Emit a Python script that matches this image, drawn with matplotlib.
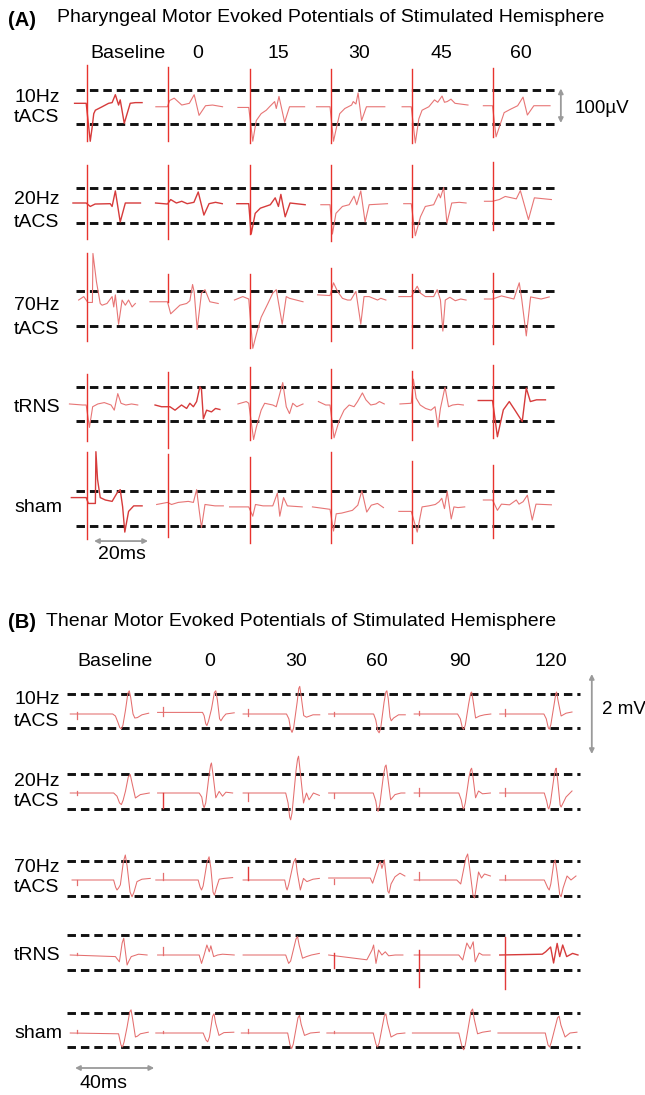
import matplotlib
matplotlib.use('Agg')
import matplotlib.pyplot as plt

plt.rcParams['font.family'] = ['Liberation Sans', 'DejaVu Sans']

# ======================= DATA =======================
A_title = 'Pharyngeal Motor Evoked Potentials of Stimulated Hemisphere'
B_title = 'Thenar Motor Evoked Potentials of Stimulated Hemisphere'
A_times = ['Baseline', '0', '15', '30', '45', '60']
B_times = ['Baseline', '0', '30', '60', '90', '120']
conditions = ['10Hz\ntACS', '20Hz\ntACS', '70Hz\ntACS', 'tRNS', 'sham']

# Panel A traces: (ms after stimulus, microvolts from baseline)
A_10Hz = [
    [(-4.6, 2), (-0.3, 2), (1.2, -108), (1.9, -68), (2.5, -28), (3.1, -18), (5.6, -8), (8, 2), (9.3, 4),
     (10.5, 27), (11.7, -3), (12.3, 12), (13.8, -56), (16, 2), (17.9, 4), (20.4, 4)],
    [(-4.6, -8), (-0.3, -8), (0.5, 10), (2.2, 17), (5, -3), (7.8, 2), (9.6, 27), (11.4, -33), (13.8, -5),
     (16.4, -3), (20.1, -8)],
    [(-4.3, -10), (-0.3, -10), (1.2, -108), (2.5, -48), (4.3, -28), (6.2, -18), (7.4, -8), (9.3, 7), (9.9, -13),
     (10.9, 22), (13, -53), (14.8, -8), (20.4, -8)],
    [(-5.3, -8), (-0.3, -8), (1, -108), (2.1, -68), (3.3, -28), (5.2, -13), (7.7, -3), (8.3, 7), (9.3, 0),
     (10.1, 32), (11.4, -48), (13.2, -8), (20, -8)],
    [(-3.7, -8), (-0.3, -8), (1.2, -113), (2.5, -43), (3.7, -18), (6.2, -8), (8.3, 12), (9.5, 5), (11.1, 23),
     (12, 5), (13, 7), (14.4, 14), (15.9, 2), (20.7, -3)],
    [(-3.7, -5), (-0.3, -5), (1, -95), (4, -25), (6.4, -15), (9, -5), (11, 20), (12.6, -32), (15, -5), (21, -5)],
]
A_10Hz_art = [(112, -108), (107, -108), (102, -113), (102, -113), (102, -113), (104, -96)]

A_20Hz = [
    [(-5.2, 0), (-0.3, 0), (1.2, -10), (3, -3), (8.6, -2), (9.3, -10), (10.5, 35), (12.3, -55), (14.2, 0), (19.8, 0)],
    [(-4.7, 0), (-0.3, -3), (0.9, 10), (3, 0), (5, 5), (7, -2), (9.5, 2), (11.1, 32), (13.2, -35), (15.1, -2),
     (17.5, 2), (20, -2)],
    [(-4.7, -2), (-0.3, -2), (0.6, -90), (2.1, -30), (4, -15), (7.7, -5), (9.5, 15), (10.7, -10), (11.6, 25),
     (13.2, -40), (15, 0), (20.6, -5)],
    [(-3.7, -5), (-0.3, -5), (0.6, -90), (1.9, -30), (4.3, -10), (6.8, -5), (8.6, 20), (9.6, -5), (11.1, 35),
     (12.7, -55), (14.2, -5), (21, -2)],
    [(-3.1, -2), (-0.3, -2), (1.2, -95), (3.1, -40), (4.9, -10), (8, -5), (9.9, 27), (10.5, 15), (11.7, 45),
     (12.9, -58), (14.7, 0), (17.5, 2), (20, 0)],
    [(-3.3, 5), (-0.3, 5), (2.2, 10), (4.4, 19), (8.5, 12), (10, 36), (13, -48), (15.2, 15), (21.5, 10)],
]
A_20Hz_art = [(110, -105), (110, -105), (110, -90), (110, -110), (110, -100), (120, -78)]

A_70Hz = [
    [(-3.1, -3), (-1.2, 7), (-0.3, -3), (0.3, -10), (2.0, -10), (2.2, 132), (3.5, 50), (4.9, -13), (5.6, -18),
     (7.4, -13), (9.3, 7), (9.9, -23), (10.5, 12), (11.7, -73), (13, -3), (14.2, -18), (15.4, -3), (16.7, -23),
     (17.9, -13)],
    [(-6.8, -8), (-0.3, -8), (0.9, -43), (4.3, -18), (6.8, -13), (8, -5), (9, 42), (9.6, 20), (10.7, -88),
     (12.3, 17), (13.6, 27), (15.4, -8), (18.5, -13)],
    [(-5.6, -3), (-2.5, 7), (-0.3, 0), (1.2, -143), (2.5, -103), (4.3, -53), (6.8, -13), (8.6, 17), (9.9, 27),
     (12.1, -73), (13.6, 7), (14.8, 2), (19.8, -8)],
    [(-4.9, 12), (-0.3, 10), (1, 47), (2.5, 22), (4.3, 2), (6.2, -3), (7.4, -3), (9.3, 22), (11.1, -73), (12.3, 7),
     (14.2, 7), (17.3, -3), (18.5, 2), (20.4, -3)],
    [(-4.9, 7), (-0.3, 7), (1.9, 37), (3.1, 17), (4.9, 7), (8, 7), (9.3, 27), (10.5, -3), (11.4, -93), (12.3, -3),
     (14, 5), (16, -5), (18, 0), (20, -3)],
    [(-3.3, 0), (-0.3, 0), (3, 9), (4.5, 6), (7.6, 0), (9.6, 47), (10.5, 0), (12.2, -107), (13.8, 6), (17.7, 0),
     (20.7, 6)],
]
A_70Hz_art = [(132, -123), (72, -10), (72, -143), (89, -123), (72, -143), (76, -130)]

A_tRNS = [
    [(-6.5, 3), (-1.6, 0), (-0.3, 0), (0.9, -65), (2.1, -5), (4, 3), (6.4, 7), (8.9, 0), (10.1, -15), (11.4, 33),
     (12.6, 5), (14.4, 0), (16.5, 3), (18.8, 0)],
    [(-4.9, 0), (-2.5, -5), (-0.3, -5), (0.6, -5), (2.5, -15), (4.9, 0), (6.8, -10), (8, 5), (9.3, -5), (10.5, 10),
     (11.7, 53), (12.3, 45), (13, -40), (14.2, -15), (16, -20), (17.5, -10), (19.1, -13)],
    [(-4.3, 3), (-1.2, 10), (-0.3, 5), (1.5, -100), (2.5, -65), (4.3, -15), (5.6, 5), (8.6, 0), (9.9, -5),
     (12.3, 65), (13.6, -5), (14.8, -25), (16, 5), (17.5, -5), (19.8, 3)],
    [(-4.6, 10), (-1.9, 0), (-0.3, 0), (1.2, -95), (3.1, -45), (4.9, -15), (6.8, 0), (8.6, -5), (9.9, 10),
     (11.7, 35), (13, 15), (14.8, 0), (16.7, 3), (18, 10), (19.8, 3)],
    [(-4.5, 3), (-0.3, 5), (0.5, 75), (1.5, 20), (3, 0), (5, -10), (7, -15), (8.5, -5), (9.6, -64), (10.5, -10),
     (12.2, 52), (13.5, -5), (15, 0), (17, 2), (19, 0)],
    [(-5.6, 13), (-0.3, 13), (1.5, -92), (3.7, -14), (5.9, 10), (8, -15), (10.7, -48), (12.2, 49), (13.7, 10),
     (16, 15), (19.3, 15)],
]
A_tRNS_art = [(90, -105), (95, -125), (110, -100), (105, -95), (100, -100), (116, -96)]

A_sham = [
    [(-5.8, 7), (-0.3, 7), (0.5, -10), (3.1, -10), (3.3, 140), (3.9, 60), (4.9, 7), (6.8, 0), (9.3, -4), (11.1, 20),
     (12.3, 30), (13.2, -20), (14, -93), (15.4, -33), (17.3, -17), (20.4, -17)],
    [(-4.3, -13), (-0.3, -7), (1.2, -13), (3.7, -7), (7.4, -4), (9.3, -7), (10.5, 30), (11.4, -27), (12.3, -80),
     (13.6, -13), (17.3, -17), (20.4, -17)],
    [(-7.4, -20), (-0.3, -20), (1.2, -47), (2.2, -13), (5, -17), (8.6, -17), (10.3, 20), (11.2, -47), (12.6, 7),
     (14, -17), (19.5, -20)],
    [(-6.8, -20), (-0.3, -27), (1, -90), (2, -40), (4, -38), (8, -30), (10, -15), (11.5, 27), (13.3, -35),
     (15, -15), (17.3, -10), (19.5, -22)],
    [(-4.9, -33), (-0.3, -33), (1.9, -93), (3.7, -20), (6.2, -17), (8.6, -13), (10, -5), (11, 5), (12, -25),
     (13, 25), (14.5, -55), (15.5, -20), (17, -22), (19.5, -20)],
    [(-3.7, 0), (-0.3, 0), (1.5, -30), (3, -12), (6, -14), (8.5, 0), (9.5, -12), (11, -5), (12.6, 14),
     (14.4, -58), (15.8, -12), (21.5, -14)],
]
A_sham_art = [(140, -113), (133, -107), (126, -126), (140, -126), (113, -126), (101, -110)]

A_ref_levels = [(41, -58), (44, -58), (23, -78), (52, -46), (26, -75)]   # dashed reference lines, µV

# Panel B traces: (ms after stimulus, millivolts from baseline)
B_10Hz = [
    [(-3.4, 0), (18, 0), (19.4, -0.05), (20.6, -0.2), (21.6, -0.34), (22.4, -0.37), (23.2, -0.28), (24.5, 0.1),
     (25.7, 0.52), (26.4, 0.58), (27.1, 0.42), (28.3, 0.0), (29.2, -0.1), (30.5, -0.09), (32.8, -0.02), (36.2, 0.02)],
    [(-2.5, 0.04), (20.2, 0.04), (21, -0.04), (21.8, -0.24), (22.4, -0.29), (23.2, -0.18), (24.7, 0.12),
     (26.2, 0.54), (26.9, 0.58), (27.7, 0.35), (28.8, -0.12), (29.5, -0.17), (30.6, -0.08), (32, 0.0), (36.2, 0.03)],
    [(-2.5, 0), (19.4, 0), (20.6, -0.12), (21.5, -0.38), (22.2, -0.46), (23, -0.35), (24.8, 0.3), (25.6, 0.64),
     (26.1, 0.69), (26.8, 0.45), (28.1, -0.04), (29.5, -0.08), (32.8, -0.02), (36.2, -0.02)],
    [(-2.5, 0), (20.2, 0), (21.3, -0.15), (22.3, -0.42), (23, -0.47), (23.8, -0.35), (25.5, 0.3), (26.4, 0.55),
     (26.9, 0.58), (27.6, 0.38), (28.5, -0.08), (29.1, -0.17), (30.3, -0.1), (32.8, -0.02), (36.2, -0.02)],
    [(-2.5, 0), (19.4, 0), (20.8, -0.12), (21.8, -0.34), (22.5, -0.38), (23.3, -0.28), (25, 0.25), (26, 0.52),
     (26.5, 0.55), (27.2, 0.35), (28.5, -0.1), (30.5, -0.05), (33, -0.02), (36.2, 0)],
    [(-2.5, 0), (19.8, 0), (21, -0.12), (22, -0.34), (22.5, -0.38), (23.3, -0.27), (25, 0.25), (25.8, 0.5),
     (26.2, 0.55), (26.9, 0.35), (28.5, -0.05), (31, 0.02), (34, 0.05)],
]
B_10Hz_art = [(0.06, -0.12), (0.17, -0.04), (0.12, -0.04), (0.04, -0.04), (0.08, -0.02), (0.12, -0.04)]

B_20Hz = [
    [(-3.4, 0), (18.5, 0), (20.2, -0.08), (21.5, -0.25), (22.4, -0.29), (23.3, -0.18), (24.5, 0.05), (25.9, 0.4),
     (26.9, 0.46), (27.8, 0.25), (29.5, -0.125), (32, -0.04), (36.5, 0)],
    [(-2.5, 0), (18.5, 0), (19.8, -0.1), (20.5, -0.3), (21, -0.37), (21.8, -0.25), (23.5, 0.45), (24.3, 0.7),
     (24.7, 0.75), (25.4, 0.5), (26.9, -0.12), (28.6, 0.04), (30.3, -0.08), (32, 0.02), (35.4, 0)],
    [(-2.5, 0), (19, 0), (20.2, -0.25), (21, -0.6), (21.5, -0.67), (22.2, -0.5), (24.2, 0.55), (25, 0.85),
     (25.5, 0.92), (26.2, 0.6), (28, -0.25), (29.5, 0), (30.8, -0.17), (33, 0), (36, -0.06)],
    [(-2.5, 0), (20, 0), (21.3, -0.2), (22, -0.42), (22.5, -0.46), (23.3, -0.3), (25.2, 0.45), (26, 0.66),
     (26.5, 0.7), (27.2, 0.45), (28.8, -0.17), (31, -0.04), (34, 0), (36, 0)],
    [(-2.5, 0), (20, 0), (21.3, -0.18), (22, -0.36), (22.5, -0.4), (23.3, -0.25), (25.2, 0.4), (26, 0.58),
     (26.5, 0.62), (27.2, 0.4), (28.5, -0.12), (30, 0.05), (32, -0.02), (36, 0)],
    [(-2.5, 0), (20, 0), (21.2, -0.2), (21.9, -0.37), (22.3, -0.4), (23.1, -0.25), (24.9, 0.4), (25.6, 0.58),
     (26, 0.62), (26.8, 0.3), (28, -0.3), (28.5, -0.35), (29.5, -0.25), (31, -0.1), (34, 0.05)],
]
B_20Hz_art = [(0.04, -0.04), (0, -0.37), (0, -0.2), (0, -0.12), (0.12, -0.08), (0.12, -0.08)]

B_70Hz = [
    [(-2.5, 0), (18.5, 0), (19.5, -0.18), (20.2, -0.25), (21, -0.2), (21.9, -0.12), (23.4, 0.45), (24.4, 0.625),
     (25.3, 0.35), (26.8, -0.3), (27.8, -0.42), (28.8, -0.3), (30.3, -0.04), (32.8, 0.02), (37, 0.04)],
    [(-3.4, 0), (18, 0), (19, -0.18), (19.7, -0.25), (20.5, -0.15), (22.5, 0.45), (23.5, 0.58), (24.4, 0.3),
     (25.5, -0.3), (26.2, -0.38), (27.2, -0.2), (28.6, 0.02), (31, 0.04), (35.4, 0.06)],
    [(-2.5, 0), (18.5, 0), (19.2, -0.18), (19.7, -0.25), (20.5, -0.12), (23, 0.45), (24, 0.54), (24.8, 0.2),
     (26.4, -0.25), (28, 0.04), (29.7, -0.04), (32.8, 0.02), (36, 0.04)],
    [(-2.5, 0.05), (18.5, 0.05), (19.7, -0.08), (22.8, 0.4), (23.6, 0.46), (24.4, 0.29), (25.6, 0.5), (26.5, 0.1),
     (27.4, -0.28), (28, -0.33), (29, -0.1), (31, 0.08), (33.5, 0.17), (36, 0.1)],
    [(-2.5, 0), (19, 0), (21, -0.1), (23.6, 0.55), (24.5, 0.65), (25.5, 0.3), (27.2, -0.38), (28, -0.45),
     (28.8, -0.2), (30, 0.2), (31.5, 0.05), (33, 0.15), (36, 0.1)],
    [(-2.5, 0), (20, 0), (21.8, -0.2), (22.5, -0.25), (23.3, -0.1), (24.8, 0.42), (25.5, 0.5), (26.4, 0.2),
     (27.8, -0.36), (28.5, -0.42), (29.5, -0.2), (31.5, 0.1), (33.5, 0.0), (36, 0.1)],
]
B_70Hz_art = [(0, -0.12), (0.17, 0), (0.33, 0), (0.02, -0.1), (0.2, 0), (0.12, 0)]

B_tRNS = [
    [(-3.4, 0), (19.4, -0.04), (21.4, -0.17), (22.8, 0.3), (23.6, 0.42), (24.4, 0.1), (25.3, -0.25), (26.2, -0.15),
     (27.4, -0.04), (31.1, 0.02), (35.4, 0)],
    [(-2.5, 0), (18.5, 0), (19.7, -0.21), (21, 0), (22.4, 0.25), (23.6, 0.08), (24.4, 0.23), (25.8, -0.04),
     (27.8, 0), (30.3, 0.02), (36.2, 0)],
    [(-2.5, 0), (19, 0), (20.5, -0.21), (21.5, -0.15), (24.2, 0.4), (25, 0.46), (25.8, 0.25), (27.5, -0.08),
     (29.5, -0.04), (32, 0.0), (36, 0.04)],
    [(-2.5, 0), (16.8, -0.12), (19.4, 0.125), (20.2, 0.25), (21.4, -0.21), (22.7, 0.125), (24.4, 0), (26.1, 0.08),
     (27.8, -0.02), (31.1, 0), (35, 0)],
    [(-2.5, 0), (20, 0), (22, -0.125), (24.1, 0.3), (25.8, 0.15), (27.3, 0.33), (28.3, -0.17), (30.3, 0.05),
     (32, 0.0), (35.8, 0)],
    [(-2.5, 0), (19, 0.02), (20.7, 0.08), (23.2, 0.2), (24.7, -0.2), (26.5, 0.29), (27.8, -0.04), (29.3, 0.25),
     (31.3, -0.04), (34.3, 0.04), (37, 0)],
]
B_tRNS_art = [(0.04, 0), (0.21, 0), (0, 0), (0.04, -0.33), (0.12, -0.8), (0.45, -0.85)]

B_sham = [
    [(-3.4, 0), (21, -0.02), (22.2, -0.3), (23, -0.35), (23.8, -0.22), (25.3, 0.15), (26.6, 0.52), (27.3, 0.58),
     (28.1, 0.35), (29.5, -0.1), (30.5, -0.08), (32, -0.02), (36, 0.02)],
    [(-3.4, 0), (20.5, 0), (22, -0.18), (22.8, -0.22), (23.7, -0.1), (25.3, 0.42), (26, 0.48), (26.8, 0.25),
     (28.5, -0.06), (31, 0.01), (36, 0.02)],
    [(-3.4, 0), (20, 0), (21.2, -0.3), (22, -0.39), (22.8, -0.28), (25.2, 0.38), (26, 0.44), (26.8, 0.22),
     (28.5, -0.06), (31.5, 0.0), (36, 0.02)],
    [(-3.4, 0), (20, 0), (21.4, -0.28), (22.2, -0.35), (23, -0.25), (25.6, 0.42), (26.4, 0.48), (27.2, 0.25),
     (29, -0.1), (32, -0.02), (36, 0)],
    [(-3.4, 0), (20, 0), (21.7, -0.35), (22.5, -0.42), (23.3, -0.3), (26.2, 0.54), (27, 0.6), (27.8, 0.35),
     (29.5, -0.02), (32, 0.02), (36, 0.05)],
    [(-3.4, 0), (20.5, 0), (21.9, -0.3), (22.7, -0.35), (23.5, -0.24), (26.7, 0.38), (27.5, 0.42), (28.4, 0.2),
     (30.5, -0.1), (33, 0.0), (36.5, 0.02)],
]
B_sham_art = [(0.08, 0), (0.04, 0), (0.1, 0), (0.04, 0), (0, 0), (0, 0)]

B_ref_levels = [(0.5, -0.35), (0.475, -0.4), (0.475, -0.4), (0.5, -0.375), (0.5, -0.35)]   # mV

A_rows = [A_10Hz, A_20Hz, A_70Hz, A_tRNS, A_sham]
A_arts = [A_10Hz_art, A_20Hz_art, A_70Hz_art, A_tRNS_art, A_sham_art]
B_rows = [B_10Hz, B_20Hz, B_70Hz, B_tRNS, B_sham]
B_arts = [B_10Hz_art, B_20Hz_art, B_70Hz_art, B_tRNS_art, B_sham_art]

# ======================= LAYOUT / STYLE =======================
W, H = 645, 1095
fig = plt.figure(figsize=(W / 100, H / 100), dpi=100)
FS = 14

A_geom = dict(x0=87, px_ms=2.7, col_ms=30.1, px_unit=0.345, base=[104, 203, 299, 405, 500],
              dash_t=(-4.1, 174.4))
B_geom = dict(x0=77, px_ms=1.98, col_ms=43.2, px_unit=40.0, base=[714, 793, 880, 955, 1033],
              dash_t=(-5.0, 254.0))

A_dark = {(0, 0), (1, 0), (1, 1), (1, 2), (3, 1), (3, 5), (4, 0)}
TRACE_A = '#e77575'
TRACE_A_DARK = '#d63b3b'
ART_A = '#e8332e'
TRACE_B = '#e46e6e'
ART_B = '#e23a3a'
DASH = (0, (2.9, 1.7))


def row_axes(g, r):
    half = 62
    base = g['base'][r]
    ax = fig.add_axes([0, 1 - (base + half) / H, 1, 2 * half / H])
    ax.set_xlim(-g['x0'] / g['px_ms'], (W - g['x0']) / g['px_ms'])
    ax.set_ylim(-half / g['px_unit'], half / g['px_unit'])
    ax.set_facecolor('none')
    ax.axis('off')
    return ax


def ftext(x, y, s, **kw):
    kw.setdefault('fontsize', FS)
    kw.setdefault('va', 'center')
    fig.text(x / W, 1 - y / H, s, **kw)


axes_A, axes_B = [], []
for panel, g, rows, arts, levels in (('A', A_geom, A_rows, A_arts, A_ref_levels),
                                     ('B', B_geom, B_rows, B_arts, B_ref_levels)):
    for r, (traces, art) in enumerate(zip(rows, arts)):
        ax = row_axes(g, r)
        (axes_A if panel == 'A' else axes_B).append(ax)
        for lev in levels[r]:
            ax.plot(g['dash_t'], [lev, lev], color='#111111', lw=2.1, linestyle=DASH,
                    solid_capstyle='butt')
        for c, (pts, (up, dn)) in enumerate(zip(traces, art)):
            off = c * g['col_ms']
            t = [p[0] + off for p in pts]
            v = [p[1] for p in pts]
            if panel == 'A':
                dark = (r, c) in A_dark
                ax.plot(t, v, color=TRACE_A_DARK if dark else TRACE_A, lw=1.0 if dark else 0.8,
                        solid_joinstyle='round')
                ax.plot([off, off], [dn, up], color=ART_A, lw=1.0, clip_on=False)
            else:
                dark = (r == 3 and c == 5)
                ax.plot(t, v, color=TRACE_A_DARK if dark else TRACE_B, lw=1.0 if dark else 0.75,
                        solid_joinstyle='round')
                if up != 0 or dn != 0:
                    big = (up - dn) > 0.3
                    ax.plot([off, off], [dn, up], color=ART_B if big else TRACE_B,
                            lw=1.0 if big else 0.9, clip_on=False)

# ---- titles, headers, row labels
ftext(8, 20, '(A)', fontweight='bold', fontsize=14.5)
ftext(57, 18, A_title)
for x, s in zip([128, 198, 278, 359, 441, 521], A_times):
    ftext(x, 53, s, ha='center')
A_label_y = [(97, 118), (199, 222), (306, 329), (408,), (508,)]
for lab, ys in zip(conditions, A_label_y):
    for s, y in zip(lab.split('\n'), ys):
        ftext(14, y, s)

ftext(8, 623, '(B)', fontweight='bold', fontsize=14.5)
ftext(46, 622, B_title)
for x, s in zip([115, 210, 296, 377, 460, 551], B_times):
    ftext(x, 661, s, ha='center')
B_label_y = [(700, 722), (782, 802), (867, 888), (955,), (1033,)]
for lab, ys in zip(conditions, B_label_y):
    for s, y in zip(lab.split('\n'), ys):
        ftext(14, y, s)

# ---- scale bars (data units)
arrow = dict(arrowstyle='<|-|>', color='#9a9a9a', lw=1.3, mutation_scale=7, shrinkA=0, shrinkB=0)
ax = axes_A[0]
ax.annotate('', xy=(175.5, 45), xytext=(175.5, -55), arrowprops=arrow, annotation_clip=False)
ax.text(180.5, -12, '100µV', fontsize=13.5, va='center', ha='left')
ax = axes_A[4]
ax.annotate('', xy=(2.6, -119), xytext=(22.6, -119), arrowprops=arrow, annotation_clip=False)
ax.text(12.8, -159, '20ms', fontsize=FS, va='center', ha='center')
ax = axes_B[0]
ax.annotate('', xy=(260, 1.0), xytext=(260, -1.0), arrowprops=arrow, annotation_clip=False)
ax.text(265, 0.1, '2 mV', fontsize=13.5, va='center', ha='left')
ax = axes_B[4]
ax.annotate('', xy=(-1, -0.875), xytext=(39, -0.875), arrowprops=arrow, annotation_clip=False)
ax.text(13.6, -1.25, '40ms', fontsize=FS, va='center', ha='center')

fig.savefig('out.png', dpi=100)
